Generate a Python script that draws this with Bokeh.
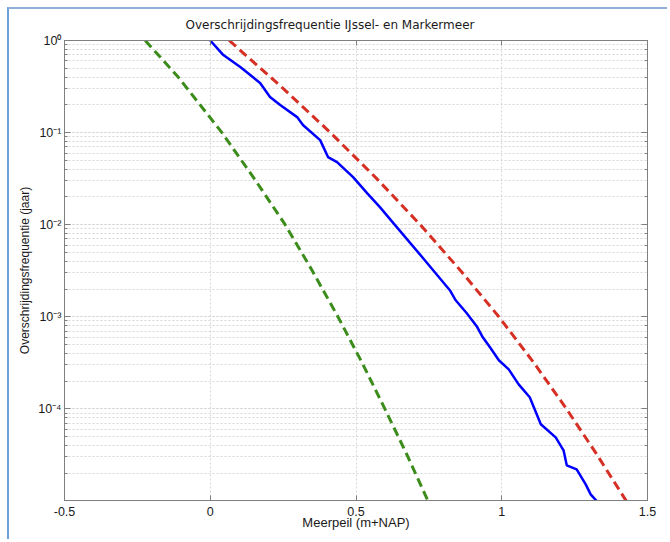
from bokeh.plotting import figure
from bokeh.models import (Range1d, LogAxis, LinearAxis, FixedTicker, LogTicker,
                          CustomJSTickFormatter)
from bokeh.embed import file_html
from bokeh.resources import INLINE

# ---- data ----
title_text = "Overschrijdingsfrequentie IJssel- en Markermeer"
x_label = "Meerpeil (m+NAP)"
y_label = "Overschrijdingsfrequentie (jaar)"
x_ticks = [-0.5, 0, 0.5, 1, 1.5]

# blue: observed (empirical) exceedance frequency
blue_x = [0.000, 0.045, 0.103, 0.171, 0.205, 0.240, 0.298, 0.318, 0.377, 0.404,
          0.435, 0.490, 0.538, 0.582, 0.634, 0.736, 0.822, 0.842, 0.880, 0.914,
          0.935, 0.962, 0.990, 1.024, 1.058, 1.096, 1.134, 1.185, 1.212, 1.223,
          1.257, 1.288, 1.305, 1.325]
blue_logf = [0.000, -0.158, -0.288, -0.462, -0.614, -0.701, -0.832, -0.918, -1.082, -1.266,
             -1.321, -1.484, -1.658, -1.810, -2.005, -2.386, -2.712, -2.821, -2.962, -3.103,
             -3.223, -3.342, -3.473, -3.571, -3.734, -3.875, -4.168, -4.310, -4.451, -4.614,
             -4.658, -4.821, -4.929, -5.000]

# red dashed
red_x = [0.065, 0.243, 0.412, 0.571, 0.720, 0.859, 0.990, 1.110, 1.222, 1.327, 1.427]
red_logf = [0.0, -0.5, -1.0, -1.5, -2.0, -2.5, -3.0, -3.5, -4.0, -4.5, -5.0]

# green dashed
green_x = [-0.223, -0.110, 0.040, 0.151, 0.257, 0.350, 0.438, 0.521, 0.599, 0.675, 0.747]
green_logf = [0.0, -0.397, -1.0, -1.5, -2.0, -2.5, -3.0, -3.5, -4.0, -4.5, -5.0]

blue_f = [10 ** v for v in blue_logf]
red_f = [10 ** v for v in red_logf]
green_f = [10 ** v for v in green_logf]

AXIS_COLOR = "#7f7f7f"
TEXT_COLOR = "#1a1a1a"
GRID_COLOR = "#d6d6d6"
FONT = "Liberation Sans"

p = figure(width=660, height=532, y_axis_type="log",
           x_range=Range1d(-0.5, 1.5), y_range=Range1d(1.01e-5, 1.0),
           output_backend="svg", toolbar_location=None,
           min_border_left=55, min_border_top=31, min_border_right=22, min_border_bottom=41,
           styles={"margin-left": "7px", "margin-top": "7px",
                   "border-left": "2px solid #6f9fd8", "border-top": "2px solid #8fb0d8"})

p.title.text = title_text
p.title.align = "left"
p.title.vertical_align = "top"
p.title.text_font = "DejaVu Sans"
p.title.text_font_size = "12px"
p.title.text_font_style = "normal"
p.title.text_color = TEXT_COLOR
p.title.offset = 121
p.title.standoff = 14

p.outline_line_color = AXIS_COLOR
p.background_fill_color = "white"
p.border_fill_color = "white"

# grids
p.xgrid.ticker = FixedTicker(ticks=x_ticks)
p.xgrid.grid_line_color = GRID_COLOR
p.xgrid.grid_line_dash = "2 2"
p.ygrid.grid_line_color = GRID_COLOR
p.ygrid.grid_line_dash = "2 2"
p.ygrid.minor_grid_line_color = GRID_COLOR
p.ygrid.minor_grid_line_dash = "2 2"

sup_js = """
const m = {"0":"\u2070","1":"\u00b9","2":"\u00b2","3":"\u00b3","4":"\u2074",
           "5":"\u2075","6":"\u2076","7":"\u2077","8":"\u2078","9":"\u2079","-":"\u207b"};
const e = Math.round(Math.log10(tick));
return "10" + String(e).split("").map(c => m[c]).join("");
"""

# bottom axis
xa = p.xaxis[0]
xa.ticker = FixedTicker(ticks=x_ticks)
xa.formatter = CustomJSTickFormatter(code="return String(tick);")
xa.axis_label = x_label
xa.major_tick_in = 5
xa.major_tick_out = 0

# left axis
ya = p.yaxis[0]
ya.formatter = CustomJSTickFormatter(code=sup_js)
ya.axis_label = y_label
ya.major_tick_in = 6
ya.major_tick_out = 0
ya.minor_tick_in = 3
ya.minor_tick_out = 0

for ax in (xa, ya):
    ax.axis_line_color = AXIS_COLOR
    ax.major_tick_line_color = AXIS_COLOR
    ax.major_label_text_font = FONT
    ax.major_label_text_font_size = "12.5px"
    ax.major_label_text_color = TEXT_COLOR
    ax.axis_label_text_font = FONT
    ax.axis_label_text_font_style = "normal"
    ax.axis_label_text_color = TEXT_COLOR
xa.axis_label_text_font_size = "13px"
ya.axis_label_text_font_size = "12px"
xa.minor_tick_line_color = None
ya.minor_tick_line_color = AXIS_COLOR

xa.major_label_standoff = 6
xa.axis_label_standoff = -4
ya.major_label_standoff = 3
ya.axis_label_standoff = 3

# top and right axes (ticks only)
top = LinearAxis(ticker=FixedTicker(ticks=x_ticks),
                 formatter=CustomJSTickFormatter(code="return '';"))
top.major_tick_in = 5
top.major_tick_out = 0
top.minor_tick_line_color = None
top.major_label_text_font_size = "0px"
top.major_label_standoff = 0
top.axis_line_color = AXIS_COLOR
top.major_tick_line_color = AXIS_COLOR
p.add_layout(top, "above")

right = LogAxis(ticker=LogTicker(),
                formatter=CustomJSTickFormatter(code="return '';"))
right.major_tick_in = 6
right.major_tick_out = 0
right.minor_tick_in = 3
right.minor_tick_out = 0
right.major_label_text_font_size = "0px"
right.major_label_standoff = 0
right.axis_line_color = AXIS_COLOR
right.major_tick_line_color = AXIS_COLOR
right.minor_tick_line_color = AXIS_COLOR
p.add_layout(right, "right")

# curves
p.line(green_x, green_f, line_color="#3c8c1c", line_width=3, line_dash="9 5")
p.line(red_x, red_f, line_color="#d62f24", line_width=3, line_dash="9 5")
p.line(blue_x, blue_f, line_color="#0000ff", line_width=2.5)

open("out.html", "w").write(file_html(p, INLINE))
